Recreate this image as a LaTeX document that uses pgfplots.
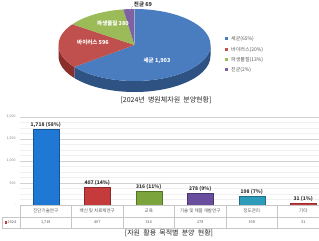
\documentclass[border=0pt]{standalone}
\usepackage{pgfplots}
\pgfplotsset{compat=1.18}
\usepackage{fontspec}
\setmainfont{Noto Sans CJK KR}
\definecolor{pieblue}{HTML}{4A7CC0}
\definecolor{pieblueside}{HTML}{2E5282}
\definecolor{piered}{HTML}{C0504D}
\definecolor{pieredside}{HTML}{8A2E2C}
\definecolor{piegreen}{HTML}{9BBB59}
\definecolor{piepurple}{HTML}{7E62A4}
\definecolor{barblue}{HTML}{1F78D4}
\definecolor{barred}{HTML}{C53A3A}
\definecolor{bargreen}{HTML}{7BA43C}
\definecolor{barpurple}{HTML}{6A4E9E}
\definecolor{barteal}{HTML}{2C9CBA}
\definecolor{txtgray}{HTML}{595959}
\begin{document}
\begin{tikzpicture}[x=1pt,y=1pt]
\fill[white] (0,0) rectangle (319,241);
\clip (0,0) rectangle (319,241);
% ---------------- pie (values) ----------------
\def\vA{1903}\def\vB{596}\def\vC{380}\def\vD{69}
\pgfmathsetmacro\tot{\vA+\vB+\vC+\vD}
\pgfmathsetmacro\aA{90}
\pgfmathsetmacro\aB{\aA-\vA/\tot*360}
\pgfmathsetmacro\aC{\aB-\vB/\tot*360}
\pgfmathsetmacro\aD{\aC-\vC/\tot*360}
\pgfmathsetmacro\aE{\aD-\vD/\tot*360}
\begin{scope}[shift={(134.5,196)}]
 \fill[pieblueside] (0:76pt and 36pt) arc[start angle=0,end angle=\aB,x radius=76pt,y radius=36pt] -- ++(0,-11pt) arc[start angle=\aB,end angle=0,x radius=76pt,y radius=36pt] -- cycle;
 \fill[pieredside] (\aB:76pt and 36pt) arc[start angle=\aB,end angle=-180,x radius=76pt,y radius=36pt] -- ++(0,-11pt) arc[start angle=-180,end angle=\aB,x radius=76pt,y radius=36pt] -- cycle;
 \fill[pieblue] (0,0) -- (\aA:76pt and 36pt) arc[start angle=\aA,end angle=\aB,x radius=76pt,y radius=36pt] -- cycle;
 \fill[piered] (0,0) -- (\aB:76pt and 36pt) arc[start angle=\aB,end angle=\aC,x radius=76pt,y radius=36pt] -- cycle;
 \fill[piegreen] (0,0) -- (\aC:76pt and 36pt) arc[start angle=\aC,end angle=\aD,x radius=76pt,y radius=36pt] -- cycle;
 \fill[piepurple] (0,0) -- (\aD:76pt and 36pt) arc[start angle=\aD,end angle=\aE,x radius=76pt,y radius=36pt] -- cycle;
\end{scope}
\node[font=\fontsize{5.5}{6}\selectfont\bfseries, text=white] at (157,180) {세균 1,903};
\node[font=\fontsize{5.5}{6}\selectfont\bfseries, text=white] at (93,199) {바이러스 596};
\node[font=\fontsize{5.5}{6}\selectfont\bfseries, text=white] at (113,218) {파생물질 380};
\node[font=\fontsize{5.5}{6}\selectfont\bfseries, text=black!80] at (143,237) {진균 69};
\draw[gray!60, line width=0.3pt] (129.5,230.5) -- (133,235);
% legend
\foreach \c/\t/\yy in {pieblue/세균(65\%)/202, piered/바이러스(20\%)/191, piegreen/파생물질(13\%)/181, piepurple/진균(2\%)/171}{
  \fill[\c] (224.5,\yy-1.5) rectangle (227.5,\yy+1.5);
  \node[anchor=west, inner sep=0pt, font=\fontsize{5}{6}\selectfont, text=txtgray] at (231,\yy) {\t};
}
\node[font=\fontsize{7}{8}\selectfont, text=black!85] at (166,141) {[2024년 \ 병원체자원 \ 분양현황]};
% ---------------- bar chart ----------------
\begin{axis}[at={(20pt,36pt)}, anchor=south west, scale only axis,
  width=309pt, height=88pt, xmin=-0.5, xmax=5.5, ymin=0, ymax=2000,
  xtick=\empty, ytick={0,500,1000,1500,2000},
  yticklabels={{-},{500},{1,000},{1,500},{2,000}},
  minor y tick num=3, ymajorgrids, yminorgrids,
  major grid style={draw=gray!35, line width=0.4pt},
  minor grid style={draw=gray!12, line width=0.3pt},
  axis line style={draw=none}, major tick length=0pt, minor tick length=0pt,
  yticklabel style={font=\fontsize{3.5}{4}\selectfont, text=gray, xshift=-1pt},
  /pgf/number format/assume math mode=true,
  clip=false,
  every node near coord/.style={font=\fontsize{5}{6}\selectfont\bfseries, text=black!80, inner sep=1.5pt},
  ]
\addplot[ybar, bar shift=0pt, bar width=26pt, fill=barblue, draw=barblue!70!black, nodes near coords={1,718 (58\%)}] coordinates {(0,1718)};
\addplot[ybar, bar shift=0pt, bar width=26pt, fill=barred, draw=barred!70!black, nodes near coords={407 (14\%)}] coordinates {(1,407)};
\addplot[ybar, bar shift=0pt, bar width=26pt, fill=bargreen, draw=bargreen!70!black, nodes near coords={316 (11\%)}] coordinates {(2,316)};
\addplot[ybar, bar shift=0pt, bar width=26pt, fill=barpurple, draw=barpurple!70!black, nodes near coords={278 (9\%)}] coordinates {(3,278)};
\addplot[ybar, bar shift=0pt, bar width=26pt, fill=barteal, draw=barteal!70!black, nodes near coords={198 (7\%)}] coordinates {(4,198)};
\addplot[ybar, bar shift=0pt, bar width=26pt, fill=barred, draw=barred!80!black, nodes near coords={31 (1\%)}] coordinates {(5,31)};
\end{axis}
% data table
\draw[gray!45, line width=0.4pt] (20,36) -- (319,36);
\draw[gray!45, line width=0.4pt] (2,24) -- (319,24);
\draw[gray!45, line width=0.4pt] (2,13) -- (319,13);
\draw[gray!45, line width=0.4pt] (2,13) -- (2,24);
\foreach \i in {0,...,5}{\draw[gray!45, line width=0.4pt] ({20+51.5*\i},13) -- ({20+51.5*\i},36);}
\foreach \n/\v [count=\i from 0] in {진단기술연구/{1,718}, 백신 및 치료제연구/407, 교육/316, 기술 및 제품 개발연구/278, 정도관리/198, 기타/31}{
  \node[font=\fontsize{4.5}{5}\selectfont, text=txtgray] at ({45.75+51.5*\i},30) {\n};
  \node[font=\fontsize{3.8}{4}\selectfont, text=txtgray] at ({45.75+51.5*\i},18.5) {\v};
}
\fill[barred] (4.5,17.3) rectangle (6.9,19.7);
\node[anchor=west, inner sep=0pt, font=\fontsize{3.8}{4}\selectfont, text=txtgray] at (7.5,18.5) {2024};
\node[font=\fontsize{7}{8}\selectfont, text=black!85] at (169,8) {[자원 \ 활용 \ 목적별 \ 분양 \ 현황]};
\end{tikzpicture}
\end{document}
